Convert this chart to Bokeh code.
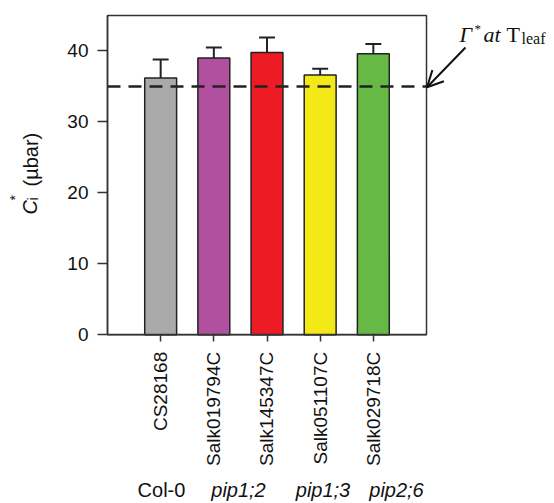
import math
from bokeh.plotting import figure
from bokeh.models import Range1d, FixedTicker, Label, Arrow, OpenHead, ColumnDataSource
from bokeh.embed import file_html
from bokeh.resources import INLINE

# ---- data ----
lines = ["CS28168", "Salk019794C", "Salk145347C", "Salk051107C", "Salk029718C"]
means = [36.2, 39.0, 39.8, 36.6, 39.6]
errors = [2.6, 1.5, 2.1, 0.9, 1.4]
colors = ["#aaaaaa", "#b0509e", "#ed1c24", "#f3e916", "#67b946"]
genotypes = ["Col-0", "pip1;2", "pip1;3", "pip2;6"]
genotype_italic = [False, True, True, True]
gamma_star = 35.0
y_ticks = [0, 10, 20, 30, 40]

# ---- layout constants (pixels on the page) ----
W, H = 552, 502
OFF = 0.0                               # page offset of the canvas
FL, FR, FT, FB = 107, 426, 15, 334.3    # plot-box edges on page
XMIN, XMAX, YMIN, YMAX = 0, 6, 0, 45
LBL_SHIFT = 7.5                         # labels render this far "below" their anchor

sx = (XMAX - XMIN) / (FR - FL)
sy = (YMAX - YMIN) / (FB - FT)

def px2x(px):
    return XMIN + (px - FL) * sx

def py2y(py):
    return YMIN + (FB - py) * sy

x_range = Range1d(px2x(OFF), px2x(OFF + W))
y_range = Range1d(py2y(OFF + H), py2y(OFF))

p = figure(width=W, height=H, x_range=x_range, y_range=y_range,
           output_backend="svg", toolbar_location=None,
           min_border_left=0, min_border_right=0, min_border_top=0, min_border_bottom=0)
p.background_fill_color = "white"
p.border_fill_color = "white"
p.outline_line_color = None
p.xgrid.visible = False
p.ygrid.visible = False

xs = list(range(1, len(lines) + 1))
tops = [m + e for m, e in zip(means, errors)]
src = ColumnDataSource(dict(x=xs, top=means, color=colors, etop=tops,
                            cl=[x - 0.15 for x in xs], cr=[x + 0.15 for x in xs]))

# plot box
p.quad(left=[XMIN], right=[XMAX], bottom=[YMIN], top=[YMAX], fill_color=None,
       line_color="#333333", line_width=1.5)

p.vbar(x="x", top="top", bottom=0, width=0.6, fill_color="color",
       line_color="#222222", line_width=1.5, source=src)
p.segment(x0="x", y0="top", x1="x", y1="etop", line_color="#222222", line_width=2, source=src)
p.segment(x0="cl", y0="etop", x1="cr", y1="etop", line_color="#222222", line_width=2, source=src)

# Γ* reference line
p.line(x=[XMIN, XMAX], y=[gamma_star, gamma_star], line_color="#222222",
       line_width=2.5, line_dash="13 8")

FONT = "Liberation Sans"
SERIF = "Liberation Serif"
TXT = "#111111"

# axes (library axes, drawn at the plot-box edges)
yax = p.yaxis[0]
yax.fixed_location = XMIN
yax.bounds = (YMIN, YMAX)
yax.ticker = FixedTicker(ticks=y_ticks)
yax.major_tick_out = 10
yax.major_tick_in = 0
yax.minor_tick_line_color = None
yax.major_label_standoff = 9
yax.major_label_text_font = FONT
yax.major_label_text_font_size = "19px"
yax.major_label_text_color = TXT
yax.axis_line_color = "#333333"
yax.axis_line_width = 1.5
yax.major_tick_line_color = "#333333"
yax.major_tick_line_width = 1.5

xax = p.xaxis[0]
xax.fixed_location = YMIN
xax.bounds = (XMIN, XMAX)
xax.ticker = FixedTicker(ticks=xs)
xax.major_label_overrides = {x: n for x, n in zip(xs, lines)}
xax.major_label_orientation = math.pi / 2
xax.major_tick_out = 7
xax.major_tick_in = 0
xax.minor_tick_line_color = None
xax.major_label_standoff = 10
xax.major_label_text_font = FONT
xax.major_label_text_font_size = "19px"
xax.major_label_text_color = TXT
xax.axis_line_color = "#333333"
xax.axis_line_width = 1.5
xax.major_tick_line_color = "#333333"
xax.major_tick_line_width = 1.5

# genotype labels under the axis
geno_px = [161, 238, 322.5, 396]
for g, it, gx in zip(genotypes, genotype_italic, geno_px):
    p.add_layout(Label(x=px2x(gx), y=py2y(497 - LBL_SHIFT), text=g, text_align="center",
                       text_baseline="alphabetic", text_font=FONT,
                       text_font_size="20px", text_color=TXT,
                       text_font_style="italic" if it else "normal"))

# y axis title: C_i^* (µbar), rotated
rot = math.pi / 2
ylab = [("C", 37, 214, "20px", "italic"),
        ("i", 40, 200, "14px", "normal"),
        ("*", 22, 200, "14px", "normal"),
        ("(µbar)", 37.5, 186, "20px", "normal")]
for t, bx, by, fs, st in ylab:
    p.add_layout(Label(x=px2x(bx - LBL_SHIFT), y=py2y(by), text=t, angle=rot,
                       text_font=FONT, text_font_size=fs, text_font_style=st,
                       text_color=TXT, text_align="left", text_baseline="alphabetic"))

# annotation: Γ* at T_leaf with arrow
ann = [("Γ", 459, 41.5, "22px", "italic"),
       ("*", 474, 35, "13px", "normal"),
       ("at", 483, 41.5, "22px", "italic"),
       ("T", 506, 41.5, "22px", "normal"),
       ("leaf", 521, 45.5, "16px", "normal")]
for t, ax_, ay_, fs, st in ann:
    p.add_layout(Label(x=px2x(ax_), y=py2y(ay_ - LBL_SHIFT), text=t, text_font=SERIF,
                       text_font_size=fs, text_font_style=st, text_color="#111111",
                       text_align="left", text_baseline="alphabetic"))

p.add_layout(Arrow(x_start=px2x(465), y_start=py2y(47), x_end=px2x(426.5), y_end=py2y(86.7),
                   line_color="#111111", line_width=2,
                   end=OpenHead(size=16, line_color="#111111", line_width=2)))

open("out.html", "w").write(file_html(p, INLINE))
